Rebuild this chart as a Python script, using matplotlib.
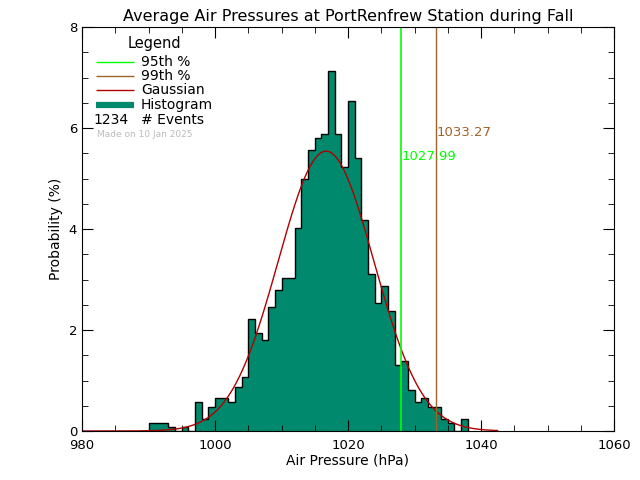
import numpy as np
import matplotlib
matplotlib.use("Agg")
import matplotlib.pyplot as plt
from matplotlib.ticker import MultipleLocator

# histogram of pressures, 1 hPa bins starting at 990
bin_start = 990
probability = [0.15, 0.15, 0.15, 0.07, 0.0, 0.07, 0.0, 0.57, 0.24, 0.48,
               0.65, 0.65, 0.57, 0.88, 1.06, 2.21, 1.95, 1.80, 2.45, 2.79,
               3.02, 3.02, 4.01, 4.99, 5.56, 5.80, 5.89, 7.12, 5.89, 5.23,
               6.54, 5.40, 4.18, 3.11, 2.53, 2.87, 2.37, 1.31, 1.39, 0.81,
               0.57, 0.65, 0.48, 0.48, 0.23, 0.15, 0.0, 0.23]
edges = np.arange(bin_start, bin_start + len(probability) + 1)

# gaussian fit and percentiles
gauss_mean = 1016.7
gauss_sigma = 7.2
gauss_range = (980, 1042.5)
p95 = 1027.99
p99 = 1033.27

teal = '#00896C'
brown = '#A0642A'
green = '#00FF00'
red = '#B00000'

fig = plt.figure(figsize=(6.4, 4.8), dpi=100)
ax = fig.add_axes([82/640, 1-431/480, 532/640, 404/480])

ax.stairs(probability, edges, fill=True, color=teal, linewidth=0)
ax.stairs(probability, edges, color='black', linewidth=1.0)

gx = np.linspace(gauss_range[0], gauss_range[1], 600)
gy = 100.0 / (gauss_sigma * np.sqrt(2*np.pi)) * np.exp(-0.5*((gx-gauss_mean)/gauss_sigma)**2)
ax.plot(gx, gy, color=red, linewidth=1)

ax.axvline(p95, color=green, linewidth=1.2)
ax.axvline(p99, color=brown, linewidth=1)
ax.text(p99 + 0.1, 5.92, f"{p99:.2f}", color=brown, fontsize=9.5, va='center')
ax.text(p95 + 0.1, 5.43, f"{p95:.2f}", color=green, fontsize=9.5, va='center')

ax.set_xlim(980, 1060)
ax.set_ylim(0, 8)
ax.xaxis.set_major_locator(MultipleLocator(20))
ax.xaxis.set_minor_locator(MultipleLocator(5))
ax.yaxis.set_major_locator(MultipleLocator(2))
ax.yaxis.set_minor_locator(MultipleLocator(0.5))
ax.tick_params(which='both', direction='in', top=True, right=True, labelsize=9.5)
ax.tick_params(axis='x', pad=6)
ax.tick_params(which='major', length=8)
ax.tick_params(which='minor', length=4)

ax.set_title("Average Air Pressures at PortRenfrew Station during Fall", fontsize=11.5, pad=4)
ax.set_xlabel("Air Pressure (hPa)", fontsize=10, labelpad=1)
ax.set_ylabel("Probability (%)", fontsize=10)

# hand-drawn legend
t = ax.transAxes
ax.text(0.137, 0.960, "Legend", transform=t, ha='center', va='center', fontsize=10.5)
rows = [("95th %", green, 1), ("99th %", brown, 1), ("Gaussian", red, 1), ("Histogram", teal, 4.5)]
ys = [0.913, 0.879, 0.844, 0.807]
for (label, col, lw), y in zip(rows, ys):
    ax.plot([0.026, 0.098], [y, y], transform=t, color=col, linewidth=lw,
            solid_capstyle='butt')
    ax.text(0.111, y, label, transform=t, va='center', fontsize=10)
ax.text(0.021, 0.770, "1234", transform=t, va='center', fontsize=10)
ax.text(0.111, 0.770, "# Events", transform=t, va='center', fontsize=10)
ax.text(0.028, 0.733, "Made on 10 Jan 2025", transform=t, va='center', fontsize=6.5, color='#BBBBBB')

fig.savefig("out.png", dpi=100)
